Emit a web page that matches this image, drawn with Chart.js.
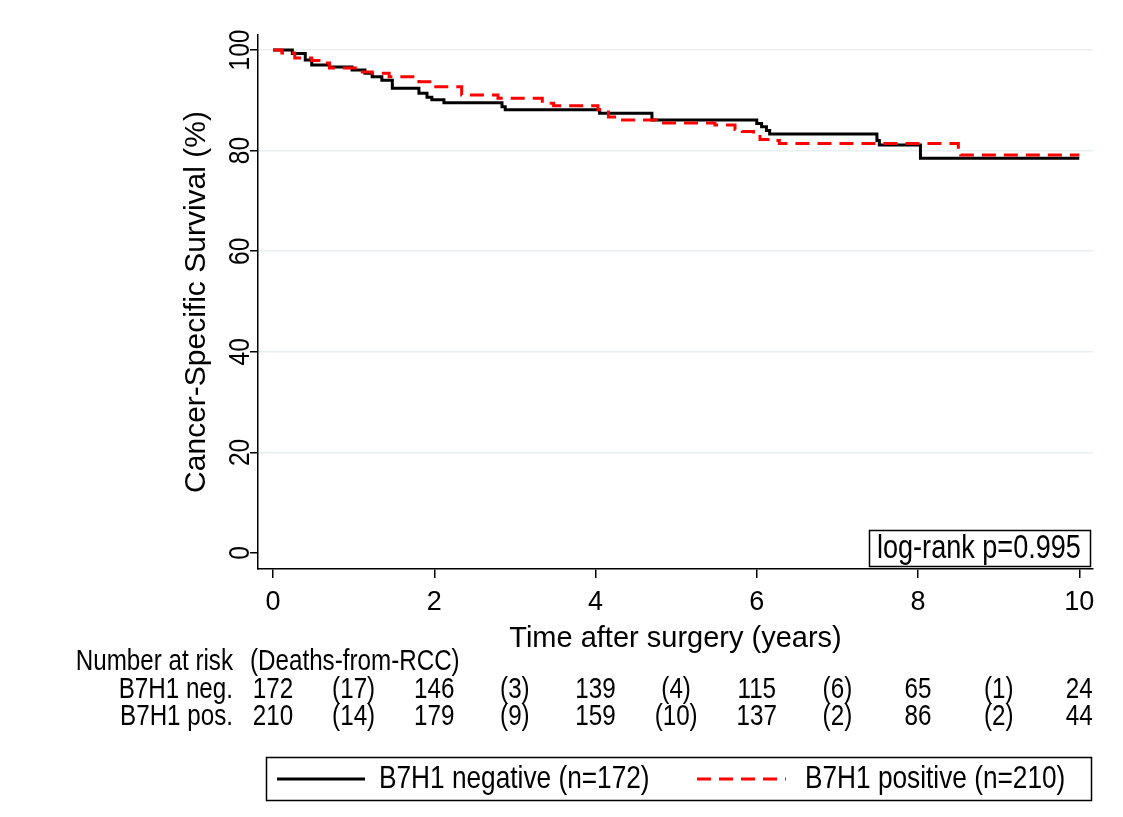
<!DOCTYPE html>
<html>
<head>
<meta charset="utf-8">
<script src="https://cdn.jsdelivr.net/npm/chart.js@4.4.1/dist/chart.umd.min.js"></script>
<style>
html,body{margin:0;padding:0;background:#fff}
#wrap{width:1123px;height:817px}
</style>
</head>
<body>
<div id="wrap"><canvas id="c" width="1123" height="817"></canvas></div>
<script>
// Kaplan-Meier steps (years, %)
let negTime = [0,0.24,0.4,0.48,0.7,0.98,1.14,1.23,1.35,1.48,1.81,1.91,1.97,2.12,2.84,2.88,4.05,4.7,6.0,6.06,6.12,6.16,7.49,7.52,8.03,10];
let negSurv = [100,99.3,98,97,96.6,96,95.4,94.7,94,92.4,91.4,90.6,90.1,89.5,88.7,88.1,87.4,86.1,85.4,84.75,84.0,83.3,82.0,81.1,78.5,78.5];
let posTime = [0,0.11,0.27,0.48,0.6,0.7,1.06,1.23,1.44,1.81,2.0,2.34,2.79,3.34,3.48,4.03,4.16,4.28,4.75,5.48,5.73,5.82,5.96,6.04,6.16,6.28,8.5,8.53,10];
let posSurv = [100,99.4,98.4,97.9,97.4,96.4,95.6,95.4,94.7,93.7,92.7,91.05,90.4,89.4,88.9,88.1,86.7,86.1,85.5,85.1,84.2,83.8,82.8,82.2,82.0,81.4,80.1,79.1,79.1];

let xTicks = [0,2,4,6,8,10];
let yTicks = [0,20,40,60,80,100];

let riskNeg = [172,146,139,115,65,24];
let riskPos = [210,179,159,137,86,44];
let deathsNeg = [17,3,4,6,1];
let deathsPos = [14,9,10,2,2];
let rowNames = ["B7H1 neg.","B7H1 pos."];
let pText = "log-rank p=0.995";

let fam = "'Liberation Sans',Arial,sans-serif";
let squeeze = 0.82; // original text is a narrow face

function pts(t,s){ return t.map((v,i)=>({x:v,y:s[i]})); }

// narrow text: normal face squeezed sideways
function txt(c,s,x,y,size,align,rot){
  c.save();
  c.font = size+"px "+fam;
  c.translate(x,y);
  if(rot) c.rotate(rot);
  c.scale(squeeze,1);
  c.textAlign = align; c.textBaseline = "middle";
  c.fillText(s,0,0);
  c.restore();
}

let extras = {
  id:"extras",
  afterDraw(chart){
    let c = chart.ctx, xs = chart.scales.x, ys = chart.scales.y;
    c.save();
    c.fillStyle = "#000";
    // y tick labels, rotated like the original
    yTicks.forEach(v=>txt(c,String(v),241,ys.getPixelForValue(v),30,"center",-Math.PI/2));

    // log-rank box
    c.strokeStyle = "#000"; c.lineWidth = 1.5;
    c.strokeRect(869.5,530.5,221,36);
    txt(c,pText,877,549,33,"left");

    // number at risk table
    let fs = 29.5;
    txt(c,"Number at risk",233,662,fs,"right");
    txt(c,rowNames[0],233,690,fs,"right");
    txt(c,rowNames[1],233,717,fs,"right");
    txt(c,"(Deaths-from-RCC)",250,662,fs,"left");
    [[riskNeg,deathsNeg,690],[riskPos,deathsPos,717]].forEach(r=>{
      r[0].forEach((n,i)=>txt(c,String(n),xs.getPixelForValue(i*2),r[2],fs,"center"));
      r[1].forEach((d,i)=>txt(c,"("+d+")",xs.getPixelForValue(i*2+1),r[2],fs,"center"));
    });

    // legend box
    c.lineWidth = 1.5;
    c.strokeRect(266.5,757.5,825,43);
    let items = [[chart.data.datasets[1],277,365,379],[chart.data.datasets[0],697,786,805]];
    items.forEach(it=>{
      let ds = it[0];
      c.strokeStyle = ds.borderColor; c.lineWidth = ds.borderWidth;
      c.setLineDash(ds.borderDash||[]);
      c.beginPath(); c.moveTo(it[1],779); c.lineTo(it[2],779); c.stroke();
      c.setLineDash([]);
      txt(c,ds.label,it[3],779,32,"left");
    });
    c.restore();
  }
};

new Chart(document.getElementById("c"),{
  type:"scatter",
  data:{
    datasets:[
      {label:"B7H1 positive (n=210)", data:pts(posTime,posSurv), showLine:true, stepped:true,
       borderColor:"#f00", borderWidth:3, borderDash:[14,8], pointRadius:0, order:0},
      {label:"B7H1 negative (n=172)", data:pts(negTime,negSurv), showLine:true, stepped:true,
       borderColor:"#000", borderWidth:3, pointRadius:0, order:1}
    ]
  },
  options:{
    responsive:false, animation:false, devicePixelRatio:1,
    layout:{padding:{top:35,right:30,left:0,bottom:0}},
    plugins:{legend:{display:false}, tooltip:{enabled:false}},
    scales:{
      x:{
        type:"linear", min:-0.186, max:10.17,
        afterBuildTicks:s=>{ s.ticks = xTicks.map(v=>({value:v})); },
        afterFit:s=>{ s.height = 248; },
        grid:{drawOnChartArea:false, tickLength:9, tickColor:"#000", lineWidth:1.5},
        border:{color:"#000", width:1.5},
        ticks:{color:"#000", padding:8, maxRotation:0, font:{family:fam,size:27}},
        title:{display:true, text:"Time after surgery (years)", color:"#000",
               font:{family:fam,size:29,lineHeight:1}, padding:{top:0,bottom:164}}
      },
      y:{
        type:"linear", min:-3.18, max:102.98,
        afterBuildTicks:s=>{ s.ticks = yTicks.map(v=>({value:v})); },
        afterFit:s=>{ s.width = 258; },
        grid:{color:c=>(c.tick && c.tick.value===0) ? "rgba(0,0,0,0)" : "#e7eff1",
              lineWidth:1.5, tickLength:8, tickColor:"#000"},
        border:{color:"#000", width:1.5},
        ticks:{display:false},
        title:{display:true, text:"Cancer-Specific Survival (%)", color:"#000",
               font:{family:fam,size:30,lineHeight:1}, padding:{top:182,bottom:0}}
      }
    }
  },
  plugins:[extras]
});
</script>
</body>
</html>
